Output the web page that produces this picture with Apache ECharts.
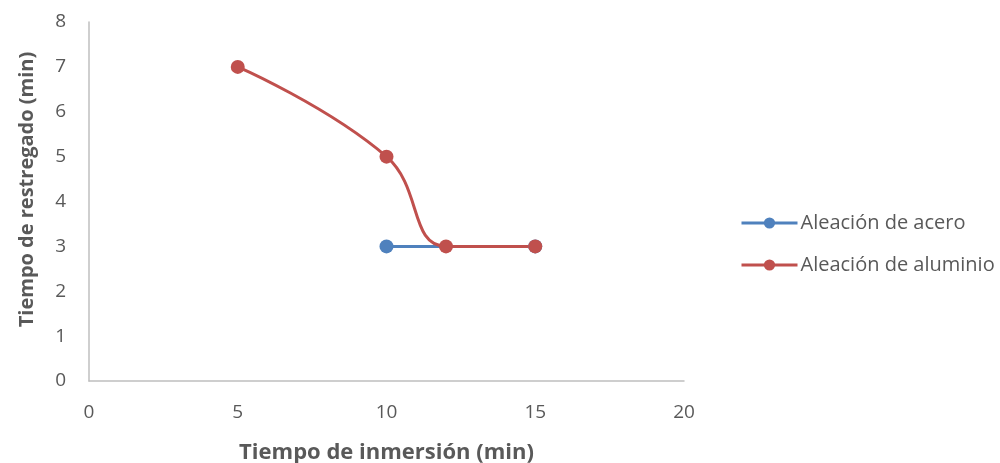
<!DOCTYPE html>
<html>
<head>
<meta charset="utf-8">
<script src="https://cdn.jsdelivr.net/npm/echarts@6/dist/echarts.min.js"></script>
<style>
  html, body { margin: 0; padding: 0; background: #fff; }
  #chart { width: 1000px; height: 463px; }
</style>
</head>
<body>
<div id="chart"></div>
<script>
// valores
const seriesNames = ["Aleación de acero", "Aleación de aluminio"];
const aceroX = [10, 15];
const aceroY = [3, 3];
const aluminioX = [5, 10, 12, 15];
const aluminioY = [7, 5, 3, 3];

const font = "'Open Sans', 'Noto Sans', sans-serif";
const textColor = "#595959";

const chart = echarts.init(document.getElementById("chart"), null, { renderer: "canvas" });

chart.setOption({
  animation: false,
  textStyle: { fontFamily: font },
  grid: { left: 89, right: 316, top: 22, bottom: 82, containLabel: false, outerBoundsMode: "none" },
  legend: {
    orient: "vertical",
    left: 735,
    top: 208,
    itemGap: 22,
    itemWidth: 56,
    itemHeight: 14,
    data: seriesNames,
    lineStyle: { width: 3 },
    textStyle: { color: textColor, fontSize: 20, fontFamily: font, padding: [0, 0, 0, -2] }
  },
  xAxis: {
    type: "value",
    min: 0,
    max: 20,
    interval: 5,
    name: "Tiempo de inmersión (min)",
    nameLocation: "middle",
    nameGap: 61,
    nameTextStyle: { color: textColor, fontSize: 22, fontWeight: "bold", fontFamily: font },
    axisLine: { lineStyle: { color: "#bfbfbf", width: 1.5 } },
    axisTick: { show: false },
    axisLabel: { color: textColor, fontSize: 19, margin: 22, fontFamily: font },
    splitLine: { show: false }
  },
  yAxis: {
    type: "value",
    min: 0,
    max: 8,
    interval: 1,
    name: "Tiempo de restregado (min)",
    nameLocation: "middle",
    nameGap: 52,
    nameTextStyle: { color: textColor, fontSize: 20, fontWeight: "bold", fontFamily: font, padding: [0, 0, 0, 24] },
    axisLine: { show: true, lineStyle: { color: "#bfbfbf", width: 1.5 } },
    axisTick: { show: false },
    axisLabel: { color: textColor, fontSize: 19, margin: 23, fontFamily: font },
    splitLine: { show: false }
  },
  series: [
    {
      name: seriesNames[0],
      type: "line",
      data: aceroX.map((x, i) => [x, aceroY[i]]),
      symbol: "circle",
      symbolSize: 14,
      lineStyle: { color: "#4F81BD", width: 3 },
      itemStyle: { color: "#4F81BD" }
    },
    {
      name: seriesNames[1],
      type: "line",
      smooth: 0.45,
      data: aluminioX.map((x, i) => [x, aluminioY[i]]),
      symbol: "circle",
      symbolSize: 14,
      lineStyle: { color: "#C0504D", width: 3 },
      itemStyle: { color: "#C0504D" }
    }
  ]
});
</script>
</body>
</html>
